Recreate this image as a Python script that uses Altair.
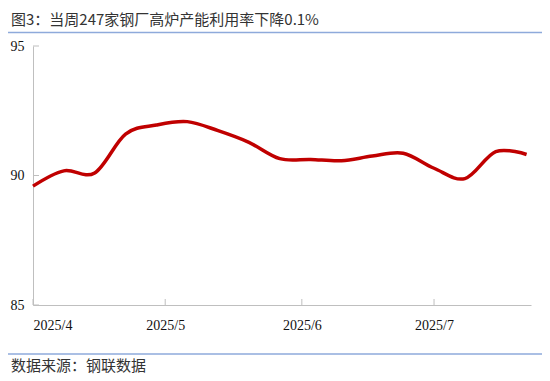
import altair as alt
import pandas as pd

# ---- data ----
dates = ["2025-04-03", "2025-04-10", "2025-04-17", "2025-04-24", "2025-05-01",
         "2025-05-08", "2025-05-15", "2025-05-22", "2025-05-29", "2025-06-05",
         "2025-06-12", "2025-06-19", "2025-06-26", "2025-07-03", "2025-07-10",
         "2025-07-17", "2025-07-24"]
values = [89.59, 90.18, 90.10, 91.60, 91.95, 92.08, 91.73, 91.28, 90.65, 90.62,
          90.57, 90.75, 90.86, 90.28, 89.88, 90.92, 90.81]
y_ticks = [85, 90, 95]
x_ticks = ["2025-04-03", "2025-05-03", "2025-06-03", "2025-07-03"]
title_text = "图3：当周247家钢厂高炉产能利用率下降0.1%"
source_text = "数据来源：钢联数据"

W, H = 498, 259
df = pd.DataFrame({"date": dates, "value": values})
yt = pd.DataFrame({"v": y_ticks})
xt = pd.DataFrame({"d": x_ticks})
texts = pd.DataFrame({"t": [title_text, source_text], "ypos": [-26.5, 320]})
lines = pd.DataFrame({"ypos": [-13.5, 308]})

def dt(s):
    y, m, d = s.split("-")
    return alt.DateTime(year=int(y), month=int(m), date=int(d), utc=True)

xscale = alt.Scale(type="utc", domain=[dt("2025-04-03"), dt("2025-07-25")])
yscale = alt.Scale(domain=[85, 95], nice=False, zero=False)

line = alt.Chart(df).mark_line(
    color="#c00000", strokeWidth=3.5, interpolate="cardinal"
).encode(
    x=alt.X("date:T", scale=xscale,
            axis=alt.Axis(values=[dt(s) for s in x_ticks], format="%Y/%-m",
                          ticks=False, grid=False, title=None,
                          domainColor="#bfbfbf", domainWidth=1,
                          labelFont="Liberation Serif", labelFontSize=14,
                          labelColor="#111", labelPadding=13)),
    y=alt.Y("value:Q", scale=yscale,
            axis=alt.Axis(values=y_ticks, ticks=False, grid=False, title=None,
                          domainColor="#bfbfbf", domainWidth=1,
                          labelFont="Liberation Serif", labelFontSize=14,
                          labelColor="#111", labelPadding=9)),
)

xtick_rules = alt.Chart(xt).mark_rule(color="#bfbfbf", strokeWidth=1).encode(
    x=alt.X("d:T", scale=xscale), y=alt.value(H), y2=alt.value(H - 6)
)
ytick_rules = alt.Chart(yt).mark_rule(color="#bfbfbf", strokeWidth=1).encode(
    y=alt.Y("v:Q", scale=yscale), x=alt.value(0), x2=alt.value(6)
)

blue_lines = alt.Chart(lines).mark_rule(color="#8eaadb", strokeWidth=1.5).encode(
    y=alt.Y("ypos:Q", scale=None), x=alt.value(-25), x2=alt.value(509)
)
text_marks = alt.Chart(texts).mark_text(
    align="left", baseline="middle", font="Noto Sans CJK SC", fontSize=15,
    color="#333"
).encode(
    x=alt.value(-22), y=alt.Y("ypos:Q", scale=None), text="t:N"
)

chart = alt.layer(blue_lines, text_marks, xtick_rules, ytick_rules, line).properties(
    width=W, height=H,
    autosize=alt.AutoSizeParams(type="none"),
    padding={"left": 25, "top": 38, "right": 11, "bottom": 72},
    background="white",
).configure_view(stroke=None)

chart.save("out.html", embed_options={"renderer": "svg", "actions": False})
